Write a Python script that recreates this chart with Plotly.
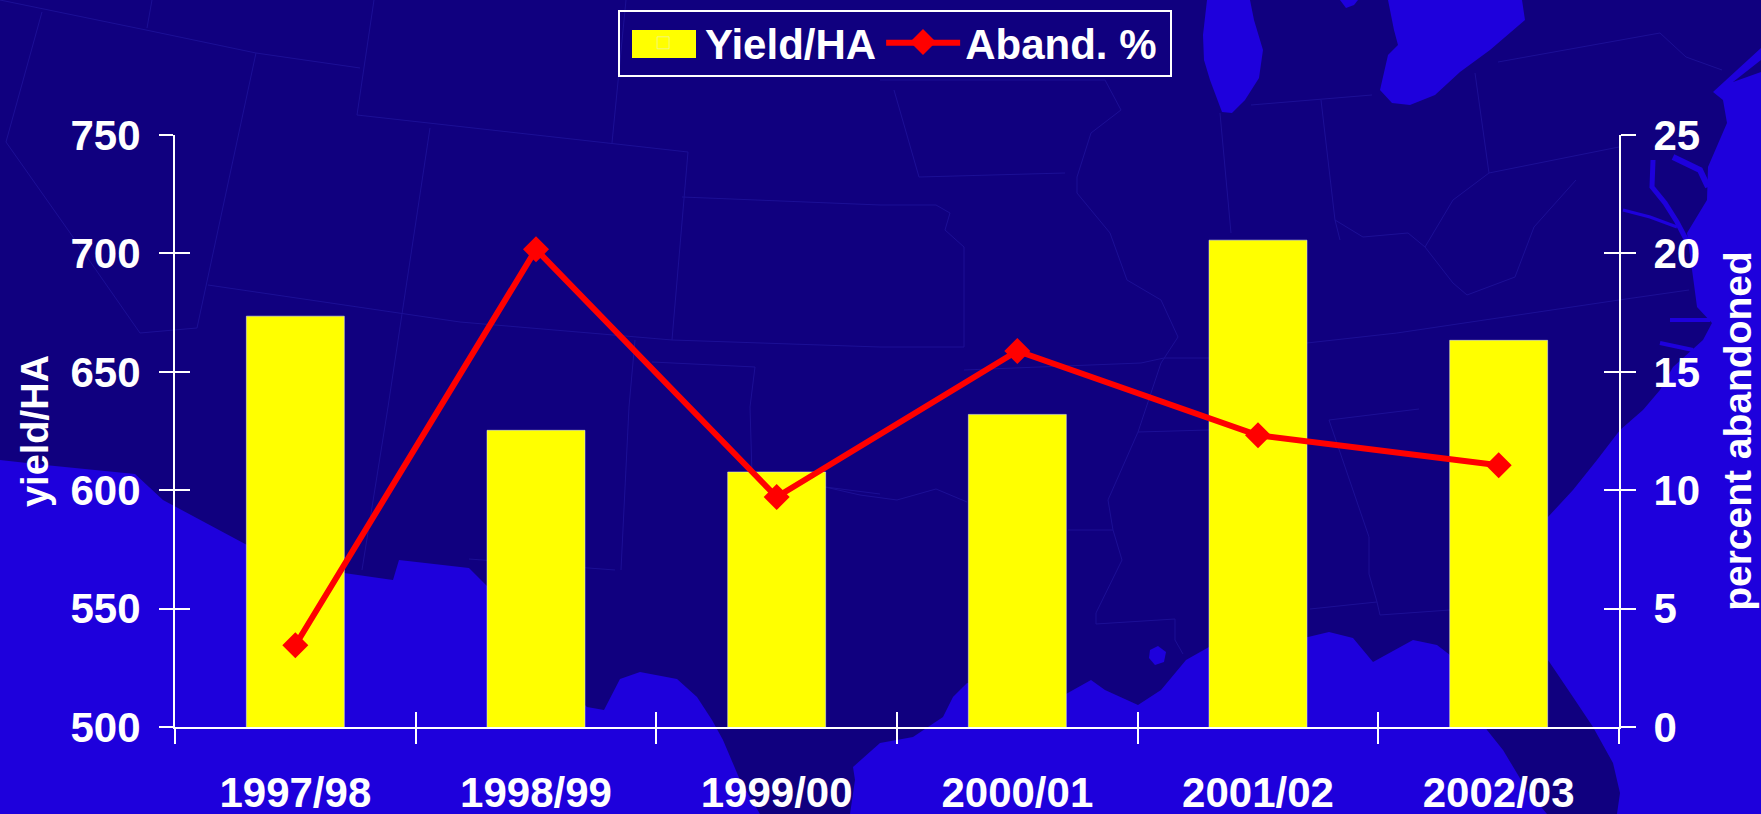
import plotly.graph_objects as go

# ---- chart data ----
seasons = ["1997/98", "1998/99", "1999/00", "2000/01", "2001/02", "2002/03"]
yield_ha = [673.5, 625.3, 607.7, 632.0, 705.6, 663.3]
abandoned_pct = [3.45, 20.17, 9.71, 15.88, 12.32, 11.05]
yield_ticks = [500, 550, 600, 650, 700, 750]
pct_ticks = [0, 5, 10, 15, 20, 25]

# ---- page geometry ----
W, H = 1761, 814
L, R, T, B = 175, 1619, 135, 727
NAVY, BLUE, BORDER, WHITE = "#10007F", "#1E00DC", "#1C0F95", "#FFFFFF"
FONT = "Liberation Sans"

# ---- decorative map backdrop, in page pixels ----
water = [
    # Gulf of Mexico, west part
    [(0, 460), (45, 465), (135, 474), (163, 500), (247, 545), (344, 573), (393, 580), (399, 560),
     (469, 568), (488, 587), (540, 660), (587, 707), (604, 710), (620, 679), (640, 672), (677, 679),
     (697, 697), (712, 720), (723, 740), (740, 780), (760, 814), (0, 814)],
    # Gulf of Mexico, east part
    [(850, 814), (855, 780), (853, 767), (880, 743), (913, 737), (943, 717), (953, 697), (967, 683),
     (1066, 694), (1091, 680), (1105, 690), (1138, 705), (1161, 690), (1186, 660), (1209, 647),
     (1308, 637), (1329, 632), (1353, 638), (1373, 662), (1413, 640), (1437, 645), (1450, 655),
     (1487, 730), (1503, 750), (1527, 790), (1547, 814)],
    # Atlantic
    [(1617, 814), (1620, 793), (1613, 763), (1593, 727), (1573, 697), (1548, 660), (1548, 517),
     (1573, 490), (1597, 460), (1620, 430), (1643, 410), (1660, 390), (1673, 367), (1703, 340),
     (1712, 323), (1697, 307), (1693, 277), (1687, 233), (1707, 200), (1708, 167), (1727, 123),
     (1723, 100), (1713, 92), (1761, 48), (1761, 60), (1733, 82), (1761, 72), (1761, 814)],
    # Lake Michigan
    [(1207, 0), (1203, 35), (1204, 60), (1210, 80), (1222, 112), (1232, 113), (1245, 100), (1259, 78),
     (1263, 50), (1254, 20), (1250, 0)],
    # Lake Huron / Erie side
    [(1388, 0), (1394, 30), (1398, 45), (1388, 55), (1380, 90), (1392, 103), (1410, 105), (1435, 95),
     (1460, 72), (1490, 50), (1525, 20), (1522, 0)],
    # Small Green Bay patch
    [(1340, 0), (1346, 8), (1354, 5), (1358, 0)],
    # Mobile Bay patch
    [(1150, 650), (1158, 646), (1166, 652), (1164, 662), (1155, 665), (1149, 658)],
]
bays = [
    ([(1653, 160), (1652, 187), (1665, 203), (1677, 222), (1688, 243)], 5),
    ([(1623, 210), (1650, 217), (1677, 227)], 3),
    ([(1673, 157), (1700, 170), (1708, 187)], 6),
    ([(1670, 320), (1710, 320)], 4),
    ([(1660, 343), (1693, 350)], 4),
]
borders = [
    [(0, 0), (146, 30), (256, 53), (360, 68)],
    [(42, 12), (6, 142), (73, 237), (140, 333), (197, 328)],
    [(256, 53), (197, 328)],
    [(152, 0), (147, 28)],
    [(374, 0), (357, 115), (688, 152)],
    [(430, 128), (388, 407), (362, 570)],
    [(626, 0), (612, 143)],
    [(688, 152), (672, 340)],
    [(682, 197), (880, 205), (936, 205), (950, 213), (945, 230), (964, 247), (964, 347), (880, 347)],
    [(208, 285), (460, 322), (672, 340), (880, 347)],
    [(635, 340), (629, 407), (621, 570)],
    [(652, 362), (755, 367), (750, 407), (752, 474)],
    [(469, 559), (615, 570)],
    [(825, 487), (860, 495), (897, 500), (936, 489), (967, 502)],
    [(919, 177), (1065, 173)],
    [(894, 90), (919, 177)],
    [(880, 80), (1105, 80), (1121, 110), (1091, 133), (1077, 177), (1077, 193), (1110, 233),
     (1127, 280), (1161, 300), (1178, 337), (1161, 363), (1138, 432), (1108, 500), (1113, 530),
     (1122, 560), (1096, 613), (1096, 624), (1175, 619), (1175, 640), (1183, 654)],
    [(964, 370), (1141, 363), (1164, 358), (1209, 358)],
    [(1307, 343), (1397, 333), (1619, 300), (1689, 290)],
    [(1251, 105), (1372, 95)],
    [(1321, 100), (1335, 220), (1340, 240)],
    [(1220, 113), (1231, 233)],
    [(1475, 73), (1489, 173), (1619, 147)],
    [(1498, 62), (1660, 33), (1686, 57), (1722, 70)],
    [(1335, 220), (1363, 237), (1408, 233), (1425, 247), (1453, 200), (1489, 173)],
    [(1425, 247), (1453, 283), (1467, 295), (1515, 277), (1534, 227), (1576, 180)],
    [(1068, 530), (1113, 530)],
    [(1138, 432), (1209, 430)],
    [(1329, 420), (1369, 537), (1369, 574), (1377, 602), (1380, 615), (1450, 610)],
    [(1310, 609), (1377, 602)],
    [(1329, 420), (1419, 409)],
    [(880, 494), (825, 487)],
]


def paper(pt):
    return (pt[0] - L) / (R - L), 1 - (pt[1] - T) / (B - T)


def path(points, close=False):
    cmds = ["M" if i == 0 else "L" for i in range(len(points))]
    body = " ".join(f"{c}{paper(p)[0]:.5f},{paper(p)[1]:.5f}" for c, p in zip(cmds, points))
    return body + (" Z" if close else "")


shapes = []
for line in borders:
    shapes.append(dict(type="path", xref="paper", yref="paper", layer="below", path=path(line),
                       line=dict(color=BORDER, width=1)))
for poly in water:
    shapes.append(dict(type="path", xref="paper", yref="paper", layer="below", path=path(poly, True),
                       fillcolor=BLUE, line=dict(width=0)))
for line, w in bays:
    shapes.append(dict(type="path", xref="paper", yref="paper", layer="below", path=path(line),
                       line=dict(color=BLUE, width=w)))
# legend frame, yellow swatch and enlarged diamond, sized like the source's
x0, y0 = paper((632, 30))
x1, y1 = paper((696, 58))
shapes.append(dict(type="rect", xref="paper", yref="paper", x0=x0, x1=x1, y0=y0, y1=y1,
                   fillcolor="#FFFF00", line=dict(width=0), layer="below"))
x0, y0 = paper((619, 11))
x1, y1 = paper((1171, 76))
shapes.append(dict(type="rect", xref="paper", yref="paper", x0=x0, x1=x1, y0=y0, y1=y1,
                   fillcolor="rgba(0,0,0,0)", line=dict(color=WHITE, width=2), layer="below"))
shapes.append(dict(type="path", xref="paper", yref="paper", layer="below",
                   path=path([(923, 29), (936, 42), (923, 55), (910, 42)], True),
                   fillcolor="#FF0000", line=dict(width=0)))

fig = go.Figure()
fig.add_bar(x=seasons, y=yield_ha, name="Yield/HA", marker=dict(color="#FFFF00"),
            yaxis="y", xaxis="x")
fig.add_scatter(x=seasons, y=abandoned_pct, name="Aband. %", yaxis="y2", xaxis="x",
                mode="lines+markers", line=dict(color="#FF0000", width=6),
                marker=dict(symbol="diamond", size=20, color="#FF0000"))
# carriers for the inward half of each crossing tick
fig.add_scatter(x=[0], y=[500], xaxis="x3", yaxis="y3", mode="markers", marker=dict(opacity=0),
                showlegend=False, hoverinfo="skip")
fig.add_scatter(x=[0], y=[0], xaxis="x3", yaxis="y4", mode="markers", marker=dict(opacity=0),
                showlegend=False, hoverinfo="skip")

tick_font = dict(family=FONT, size=42, color=WHITE)
common = dict(showgrid=False, zeroline=False, showline=True, linecolor=WHITE, linewidth=2,
              tickcolor=WHITE, tickwidth=2)

fig.update_layout(
    width=W, height=H, autosize=False,
    margin=dict(l=L, r=W - R, t=T, b=H - B, pad=0, autoexpand=False),
    paper_bgcolor=NAVY, plot_bgcolor="rgba(0,0,0,0)",
    font=dict(family=FONT, color=WHITE),
    bargap=0.593,
    shapes=shapes,
    showlegend=True,
    legend=dict(orientation="h", x=paper((621, 9))[0], y=paper((621, 9))[1], xanchor="left", yanchor="top",
                bgcolor="rgba(0,0,0,0)", borderwidth=0,
                font=dict(family=FONT, size=42, color=WHITE, weight="bold"),
                itemwidth=74, itemsizing="trace"),
    xaxis=dict(type="category", categoryorder="array", categoryarray=seasons, domain=[0, 1],
               tickson="boundaries", ticks="outside", ticklen=15, ticklabelstandoff=28,
               tickfont=dict(**tick_font, weight="bold"), anchor="y", **common),
    xaxis3=dict(overlaying="x", anchor="y", range=[0, 6], tick0=0, dtick=1, ticks="inside", ticklen=15,
                showticklabels=False, **common),
    yaxis=dict(range=[500, 750], tickvals=yield_ticks, ticks="outside", ticklen=14, ticklabelstandoff=10,
               tickfont=dict(**tick_font, weight="bold"), anchor="x",
               title=dict(text="yield/HA", font=dict(family=FONT, size=38, color=WHITE, weight="bold"), standoff=10),
               **common),
    yaxis2=dict(range=[0, 25], tickvals=pct_ticks, overlaying="y", side="right", anchor="x", ticks="outside",
                ticklen=15, ticklabelstandoff=9, tickfont=dict(**tick_font, weight="bold"),
                title=dict(text="percent abandoned", font=dict(family=FONT, size=39, color=WHITE, weight="bold"),
                           standoff=25), **common),
    yaxis3=dict(range=[500, 750], tickvals=yield_ticks, overlaying="y", anchor="x", ticks="inside", ticklen=15,
                showticklabels=False, **common),
    yaxis4=dict(range=[0, 25], tickvals=pct_ticks, overlaying="y", side="right", anchor="x", ticks="inside",
                ticklen=15, showticklabels=False, **common),
)

fig.write_html("out.html", config={"displayModeBar": False},
               post_script="document.body.style.margin='0';document.body.style.overflow='hidden';")
